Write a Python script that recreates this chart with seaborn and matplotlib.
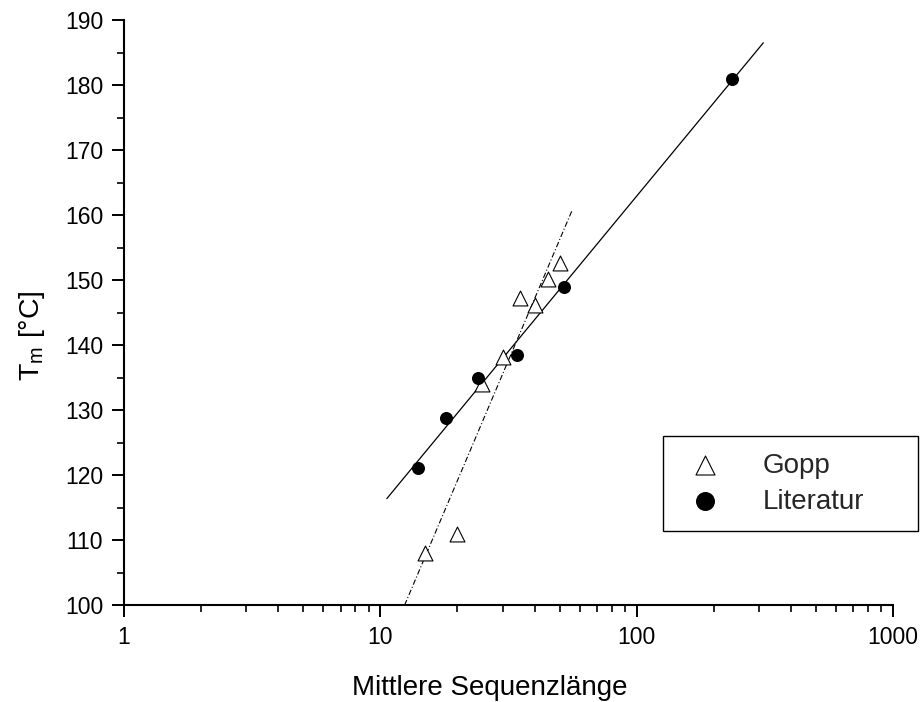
import numpy as np
import matplotlib
matplotlib.use("Agg")
import matplotlib.pyplot as plt
import seaborn as sns

# Melting temperature vs. mean sequence length
gopp_len = [15, 20, 25, 30, 35, 40, 45, 50]
gopp_tm = [108.0, 111.0, 134.0, 138.2, 147.2, 146.2, 150.2, 152.6]

lit_len = [14, 18, 24, 34, 52, 235]
lit_tm = [121.1, 128.8, 135.0, 138.4, 149.0, 181.0]

# extent of the fitted lines along the x axis
gopp_fit_span = [11.5, 56]
lit_fit_span = [10.6, 312]

x_ticks = [1, 10, 100, 1000]
x_ticklabels = ["1", "10", "100", "1000"]
y_ticks = list(range(100, 191, 10))

sns.set_style("ticks")
plt.rcParams["font.family"] = ["Liberation Sans", "DejaVu Sans"]
plt.rcParams["mathtext.fontset"] = "custom"
plt.rcParams["mathtext.rm"] = "Liberation Sans"

fig = plt.figure(figsize=(9.22, 7.02), dpi=100)
ax = fig.add_axes([124 / 922, 97 / 702, 769 / 922, 585 / 702])
ax.set_xscale("log")


def log_fit_line(xs, ys, span):
    slope, icpt = np.polyfit(np.log10(xs), ys, 1)
    xx = np.geomspace(span[0], span[1], 50)
    return xx, slope * np.log10(xx) + icpt


gx, gy = log_fit_line(gopp_len, gopp_tm, gopp_fit_span)
lx, ly = log_fit_line(lit_len, lit_tm, lit_fit_span)

sns.lineplot(x=gx, y=gy, ax=ax, color="black", linewidth=0.8,
             linestyle=(0, (5, 2, 1, 2)), estimator=None, sort=False, zorder=2)
sns.lineplot(x=lx, y=ly, ax=ax, color="black", linewidth=0.9,
             estimator=None, sort=False, zorder=2)

sns.scatterplot(x=gopp_len, y=gopp_tm, ax=ax, marker="^", s=115,
                color="white", edgecolor="black", linewidth=0.8,
                label="Gopp", zorder=3)
sns.scatterplot(x=lit_len, y=lit_tm, ax=ax, marker="o", s=88,
                color="black", edgecolor="black", linewidth=0,
                label="Literatur", zorder=3)

ax.set_xlim(1, 1000)
ax.set_ylim(100, 190)
ax.set_xticks(x_ticks)
ax.set_xticklabels(x_ticklabels)
ax.xaxis.set_minor_locator(matplotlib.ticker.LogLocator(base=10, subs=np.arange(2, 10)))
ax.xaxis.set_minor_formatter(matplotlib.ticker.NullFormatter())
ax.set_yticks(y_ticks)
ax.yaxis.set_minor_locator(matplotlib.ticker.MultipleLocator(5))

for side in ("top", "right"):
    ax.spines[side].set_visible(False)
for side in ("left", "bottom"):
    ax.spines[side].set_linewidth(1.5)
    ax.spines[side].set_color("black")

ax.tick_params(which="major", direction="out", length=8.6, width=1.4,
               color="black", labelsize=16.5, labelcolor="black", pad=6.5)
ax.tick_params(which="minor", direction="out", length=5, width=1.2, color="black")

ax.set_xlabel("Mittlere Sequenzlänge", fontsize=20, color="black")
ax.set_ylabel(r"T$_{\mathregular{m}}$ [°C]", fontsize=20.5, color="black")
ax.xaxis.set_label_coords(0.476, -0.119)
ax.yaxis.set_label_coords(-0.1, 0.46)

handles, labels = ax.get_legend_handles_labels()
leg = ax.legend(handles, labels, loc="upper left",
                bbox_to_anchor=(663 / 922, 1 - 531 / 702, 255 / 922, 95 / 702),
                bbox_transform=fig.transFigure, mode="expand",
                borderaxespad=0, borderpad=0.6, handlelength=1.85,
                handletextpad=1.14, labelspacing=0.36, fontsize=20,
                frameon=True, fancybox=False, framealpha=1)
leg.get_frame().set_edgecolor("black")
leg.get_frame().set_linewidth(1.0)
for h, ms in zip(leg.legend_handles, (19 * 0.72, 19 * 0.72)):
    h.set_sizes([ms ** 2])

fig.savefig("out.png", dpi=100)
